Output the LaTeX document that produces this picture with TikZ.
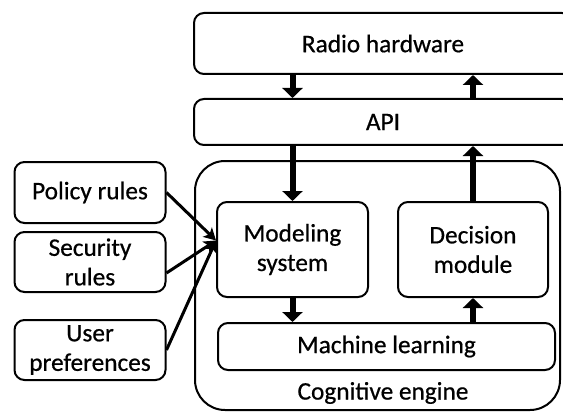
\documentclass[tikz,border=0pt]{standalone}
\usepackage{fontspec}
\setmainfont[FakeBold=0.6]{Carlito}
\usetikzlibrary{arrows.meta,positioning}
\begin{document}
\begin{tikzpicture}[x=1pt,y=-1pt,
  box/.style={draw,line width=2pt,rounded corners=10pt,align=center,inner sep=0pt,
     font=\fontsize{25.3}{29.5}\selectfont},
  bigarrow/.style={line width=6pt,-{Triangle[width=20pt,length=10pt]}},
  inarrow/.style={line width=3pt,-{Stealth[width=13pt,length=12pt,inset=3pt]}}]
\useasboundingbox (0,0) rectangle (563,412);
% cognitive engine container
\node[draw,line width=2pt,rounded corners=30pt,minimum width=365pt,minimum height=249pt,
      inner sep=0pt] (ce) at (377.5,285.5) {};
\node[font=\fontsize{25.3}{29.5}\selectfont,inner sep=0pt] (celabel) at (383,393) {Cognitive engine};
% top boxes
\node[box,minimum width=378pt,minimum height=61pt] (radio) at (383,43.5) {Radio hardware};
\node[box,minimum width=378pt,minimum height=46pt] (api) at (383,122) {API};
% inner boxes
\node[box,minimum width=151pt,minimum height=95pt] (model) at (292.5,249.5) {Modeling\\system};
\node[box,minimum width=150pt,minimum height=95pt] (decision) at (473,249.5) {Decision\\module};
\node[box,minimum width=337pt,minimum height=47pt] (ml) at (386.5,346.5) {Machine learning};
% left boxes
\node[box,minimum width=151pt,minimum height=61pt] (policy) at (90,192.5) {Policy rules};
\node[box,minimum width=151pt,minimum height=60pt] (security) at (90,262) {Security\\rules};
\node[box,minimum width=151pt,minimum height=60pt] (user) at (90,350) {User\\preferences};
% thick arrows
\draw[bigarrow] (radio.south -| model.north) -- (api.north -| model.north);
\draw[bigarrow] (api.south -| model.north) -- (model.north);
\draw[bigarrow] (model.south) -- (ml.north -| model.south);
\draw[bigarrow] (ml.north -| decision.south) -- (decision.south);
\draw[bigarrow] (decision.north) -- (api.south -| decision.north);
\draw[bigarrow] (api.north -| decision.north) -- (radio.south -| decision.north);
% input arrows
\coordinate (tip) at ([yshift=9pt]model.west);
\draw[inarrow] (policy.east) -- (tip);
\draw[inarrow] ([yshift=-11pt]security.east) -- (tip);
\draw[inarrow] (user.east) -- (tip);
\end{tikzpicture}
\end{document}
